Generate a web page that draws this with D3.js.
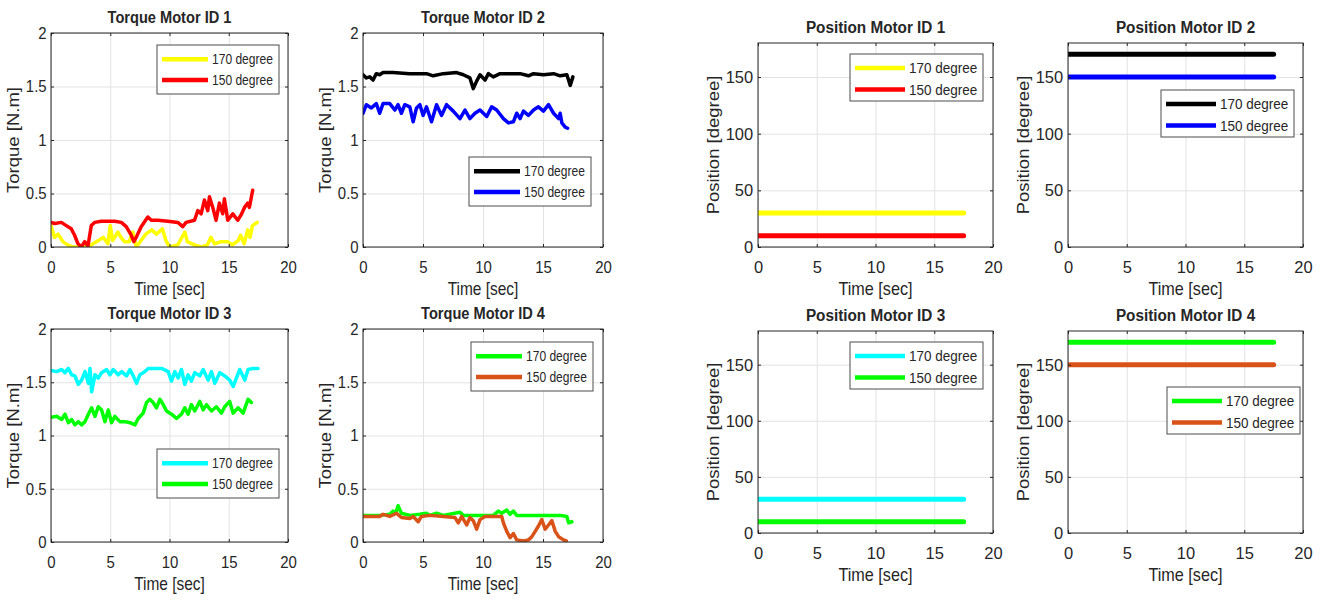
<!DOCTYPE html>
<html>
<head>
<meta charset="utf-8">
<script src="https://cdn.jsdelivr.net/npm/d3@7"></script>
<style>
body { margin: 0; background: #fff; }
text { font-family: "Liberation Sans", Arial, Helvetica, sans-serif; fill: #262626; }
</style>
</head>
<body>
<script>
// Tick values and legend labels
var timeTicks = [0, 5, 10, 15, 20];
var torqueTicks = [0, 0.5, 1, 1.5, 2];
var positionTicks = [0, 50, 100, 150];
var legendLabels = ["170 degree", "150 degree"];

// Torque readings [time sec, torque N.m]
var torque1_170 = [[0,0.20],[0.3,0.09],[0.6,0.12],[1.0,0.05],[1.4,0.02],[1.85,0],[2.3,0],[2.8,0],[3.4,0.02],[4.0,0.06],[4.4,0.09],[4.8,0.03],[5.0,0.20],[5.2,0.06],[5.65,0.14],[5.9,0.09],[6.2,0.05],[6.6,0.05],[6.9,0.14],[7.2,0],[7.6,0.06],[8.0,0.12],[8.5,0.16],[8.9,0.12],[9.4,0.17],[9.7,0.06],[10.0,0],[10.7,0.02],[11.3,0.14],[11.5,0.05],[12.1,0.02],[12.7,0],[13.2,0.02],[13.5,0.09],[13.8,0.03],[14.35,0.05],[14.9,0.05],[15.3,0.02],[15.8,0.06],[16.0,0.11],[16.3,0.03],[16.6,0.16],[16.8,0.09],[17.0,0.20],[17.4,0.23]];
var torque1_150 = [[0,0.23],[0.31,0.22],[0.87,0.23],[1.29,0.20],[1.71,0.17],[1.99,0.11],[2.28,0.03],[2.56,0],[2.84,0.05],[3.12,0.01],[3.4,0.20],[3.68,0.23],[4.24,0.24],[4.8,0.24],[5.37,0.24],[5.93,0.23],[6.35,0.19],[6.77,0.11],[6.99,0.05],[7.19,0.09],[7.61,0.19],[8.17,0.28],[8.46,0.25],[9.02,0.25],[9.86,0.24],[10.7,0.23],[11.12,0.19],[11.4,0.23],[12.11,0.25],[12.39,0.34],[12.67,0.31],[12.95,0.44],[13.23,0.34],[13.37,0.47],[13.65,0.37],[13.93,0.25],[14.21,0.41],[14.49,0.31],[14.63,0.45],[14.92,0.25],[15.34,0.31],[15.76,0.25],[16.04,0.30],[16.33,0.37],[16.6,0.41],[16.74,0.37],[17.02,0.53]];

var torque2_170 = [[0,1.61],[0.28,1.58],[0.56,1.59],[0.84,1.56],[1.11,1.62],[1.39,1.61],[1.67,1.63],[2.5,1.63],[3.9,1.62],[5.29,1.62],[5.85,1.60],[6.69,1.62],[7.8,1.63],[8.36,1.61],[8.91,1.58],[9.19,1.48],[9.47,1.55],[9.75,1.61],[10.17,1.56],[10.45,1.62],[10.86,1.59],[11.42,1.62],[12.26,1.62],[13.09,1.62],[13.79,1.60],[14.21,1.62],[15.04,1.61],[15.88,1.62],[16.43,1.60],[16.99,1.61],[17.27,1.51],[17.49,1.59]];
var torque2_150 = [[0,1.25],[0.28,1.33],[0.7,1.30],[1.11,1.34],[1.39,1.25],[1.67,1.34],[2.23,1.34],[2.65,1.28],[2.92,1.33],[3.2,1.25],[3.48,1.33],[3.9,1.31],[4.18,1.17],[4.46,1.30],[4.74,1.33],[5.01,1.23],[5.29,1.31],[5.71,1.17],[6.13,1.33],[6.55,1.23],[6.96,1.33],[7.52,1.27],[8.08,1.20],[8.5,1.28],[8.91,1.20],[9.33,1.25],[9.75,1.28],[10.31,1.22],[10.72,1.31],[11.14,1.28],[11.7,1.20],[12.12,1.16],[12.53,1.17],[12.81,1.25],[13.09,1.20],[13.37,1.27],[13.79,1.23],[14.21,1.28],[14.62,1.31],[15.04,1.27],[15.46,1.33],[15.88,1.25],[16.3,1.20],[16.43,1.25],[16.57,1.16],[16.85,1.12],[17.05,1.11]];

var torque3_170 = [[0,1.61],[0.48,1.60],[0.9,1.62],[1.18,1.59],[1.46,1.63],[1.74,1.57],[2.02,1.56],[2.3,1.48],[2.58,1.52],[2.87,1.60],[3.15,1.49],[3.29,1.63],[3.43,1.41],[3.71,1.57],[3.99,1.54],[4.27,1.59],[4.69,1.62],[4.97,1.57],[5.25,1.62],[5.67,1.57],[5.96,1.60],[6.38,1.56],[6.66,1.62],[6.94,1.56],[7.22,1.49],[7.5,1.57],[7.92,1.60],[8.2,1.63],[8.76,1.63],[9.33,1.63],[9.89,1.60],[10.17,1.51],[10.45,1.60],[10.73,1.54],[11.01,1.62],[11.29,1.48],[11.57,1.57],[11.85,1.51],[12.13,1.59],[12.56,1.56],[12.84,1.62],[13.26,1.52],[13.54,1.60],[13.82,1.49],[14.24,1.59],[14.66,1.56],[15.08,1.52],[15.37,1.46],[15.65,1.54],[15.93,1.62],[16.35,1.52],[16.63,1.62],[17.05,1.63],[17.47,1.63]];
var torque3_150 = [[0,1.17],[0.48,1.18],[0.9,1.15],[1.18,1.20],[1.46,1.12],[1.74,1.15],[2.02,1.10],[2.3,1.13],[2.58,1.10],[2.87,1.13],[3.15,1.20],[3.43,1.26],[3.71,1.18],[3.99,1.27],[4.27,1.24],[4.55,1.13],[4.83,1.24],[5.11,1.12],[5.39,1.18],[5.81,1.13],[6.24,1.13],[6.66,1.12],[7.08,1.10],[7.36,1.16],[7.78,1.21],[8.06,1.31],[8.34,1.34],[8.62,1.31],[8.9,1.26],[9.19,1.34],[9.47,1.29],[9.75,1.23],[10.17,1.20],[10.59,1.16],[11.01,1.20],[11.29,1.26],[11.57,1.20],[11.85,1.29],[12.13,1.23],[12.56,1.32],[12.84,1.24],[13.12,1.29],[13.54,1.23],[13.96,1.27],[14.38,1.21],[14.66,1.27],[15.08,1.32],[15.37,1.21],[15.79,1.26],[16.21,1.21],[16.63,1.34],[16.91,1.31]];

var torque4_170 = [[0,0.25],[1.39,0.25],[2.23,0.26],[2.51,0.29],[2.73,0.27],[2.92,0.34],[3.2,0.27],[3.9,0.25],[4.74,0.26],[5.29,0.27],[5.57,0.25],[6.13,0.27],[6.69,0.25],[8.08,0.28],[8.36,0.25],[10.86,0.25],[11.28,0.29],[11.56,0.27],[11.98,0.30],[12.26,0.26],[12.53,0.29],[12.81,0.25],[13.65,0.25],[15.04,0.25],[16.43,0.25],[16.99,0.24],[17.13,0.18],[17.41,0.19]];
var torque4_150 = [[0,0.24],[1.39,0.24],[1.67,0.26],[2.23,0.24],[2.79,0.27],[3.2,0.23],[3.9,0.22],[4.18,0.24],[4.6,0.19],[4.87,0.24],[5.57,0.25],[6.69,0.24],[7.66,0.23],[7.94,0.18],[8.22,0.24],[8.64,0.16],[8.91,0.23],[9.19,0.20],[9.47,0.12],[9.75,0.21],[10.17,0.24],[10.86,0.24],[11.56,0.24],[11.7,0.18],[11.98,0.10],[12.26,0.04],[12.53,0.08],[12.81,0.02],[13.37,0.01],[13.79,0.02],[14.07,0.05],[14.35,0.10],[14.62,0.15],[14.9,0.21],[15.18,0.12],[15.46,0.16],[15.74,0.20],[16.02,0.10],[16.3,0.05],[16.71,0.02],[16.94,0.01]];

// Position readings [time sec, position degree]
var position1_170 = [[0,30],[17.5,30]];
var position1_150 = [[0,10],[17.5,10]];
var position2_170 = [[0,170],[17.5,170]];
var position2_150 = [[0,150],[17.5,150]];
var position3_170 = [[0,30],[17.5,30]];
var position3_150 = [[0,10],[17.5,10]];
var position4_170 = [[0,170],[17.5,170]];
var position4_150 = [[0,150],[17.5,150]];

var svg = d3.select("body")
.append("svg")
.attr("width", 1323)
.attr("height", 601);

// Torque panels and position panels share one drawing routine
var torqueStyle = {yDomain: [0, 2], yTicks: torqueTicks, ylabel: "Torque [N.m]", yOff: 32,
  lineW: 3.5, sx: 0.86, tickSx: 0.88, legW: 122, legH: 49, legRows: [14.3, 35], legLine: 46, legFont: 14};
var positionStyle = {yDomain: [0, 180], yTicks: positionTicks, ylabel: "Position [degree]", yOff: 39,
  lineW: 5, sx: 0.9, tickSx: 0.97, legW: 133, legH: 47, legRows: [14, 35.5], legLine: 50, legFont: 15};

var panels = [
  {title: "Torque Motor ID 1", s: torqueStyle, left: 51, top: 33, w: 237, h: 214, legX: 106, legY: 12, series: [torque1_170, torque1_150], colors: ["#ffff00", "#ff0000"]},
  {title: "Torque Motor ID 2", s: torqueStyle, left: 363, top: 33, w: 240, h: 214, legX: 106, legY: 124, series: [torque2_170, torque2_150], colors: ["#000000", "#0000ff"]},
  {title: "Torque Motor ID 3", s: torqueStyle, left: 51, top: 329, w: 237, h: 213, legX: 106, legY: 120, series: [torque3_170, torque3_150], colors: ["#00ffff", "#00ff00"]},
  {title: "Torque Motor ID 4", s: torqueStyle, left: 363, top: 329, w: 240, h: 213, legX: 108, legY: 13, series: [torque4_170, torque4_150], colors: ["#00ff00", "#d95319"]},
  {title: "Position Motor ID 1", s: positionStyle, left: 758, top: 43, w: 235, h: 204, legX: 92, legY: 11, series: [position1_170, position1_150], colors: ["#ffff00", "#ff0000"]},
  {title: "Position Motor ID 2", s: positionStyle, left: 1068, top: 43, w: 235, h: 204, legX: 93, legY: 47, series: [position2_170, position2_150], colors: ["#000000", "#0000ff"]},
  {title: "Position Motor ID 3", s: positionStyle, left: 758, top: 331, w: 235, h: 202, legX: 92, legY: 11, series: [position3_170, position3_150], colors: ["#00ffff", "#00ff00"]},
  {title: "Position Motor ID 4", s: positionStyle, left: 1068, top: 331, w: 235, h: 202, legX: 99, legY: 56, series: [position4_170, position4_150], colors: ["#00ff00", "#d95319"]}
];

function styleAxis(sel, s) {
  sel.attr("font-size", null).attr("font-family", null);
  sel.select(".domain").remove();
  sel.selectAll(".tick line").attr("stroke", "#262626");
  sel.selectAll(".tick text")
  .style("font-size", "17px")
  .attr("fill", "#262626")
  .attr("transform", "scale(" + s.tickSx + ",1)");
}

function drawPanel(p, i) {
  var s = p.s;
  var g = svg.append("g").attr("transform", `translate(${p.left},${p.top})`);

  var x_Scale = d3.scaleLinear().domain([0, 20]).range([0, p.w]);
  var y_Scale = d3.scaleLinear().domain(s.yDomain).range([p.h, 0]);

  // Light grid
  g.append("g")
  .call(d3.axisBottom(x_Scale).tickValues(timeTicks).tickSize(p.h).tickFormat(""))
  .call(function(a) { a.select(".domain").remove(); a.selectAll("line").attr("stroke", "#e3e3e3"); });
  g.append("g")
  .call(d3.axisLeft(y_Scale).tickValues(s.yTicks).tickSize(-p.w).tickFormat(""))
  .call(function(a) { a.select(".domain").remove(); a.selectAll("line").attr("stroke", "#e3e3e3"); });

  // Clip the data to the axes box
  g.append("clipPath").attr("id", "clip" + i)
  .append("rect").attr("width", p.w).attr("height", p.h);

  var plot_line = d3.line()
  .x(function(d) { return x_Scale(d[0]); })
  .y(function(d) { return y_Scale(d[1]); });

  p.series.forEach(function(data, k) {
    g.append("path")
    .attr("d", plot_line(data))
    .attr("fill", "none")
    .attr("stroke", p.colors[k])
    .attr("stroke-width", s.lineW)
    .attr("stroke-linejoin", "round")
    .attr("stroke-linecap", "round")
    .attr("clip-path", "url(#clip" + i + ")");
  });

  // Axes with inward ticks
  g.append("g")
  .attr("transform", `translate(0,${p.h})`)
  .call(d3.axisBottom(x_Scale).tickValues(timeTicks).tickSize(-3).tickPadding(14).tickFormat(d3.format("d")))
  .call(function(a) { styleAxis(a, s); });
  g.append("g")
  .call(d3.axisLeft(y_Scale).tickValues(s.yTicks).tickSize(-3).tickPadding(5).tickFormat(function(d) { return String(d); }))
  .call(function(a) { styleAxis(a, s); });
  g.append("g")
  .call(d3.axisTop(x_Scale).tickValues(timeTicks).tickSize(-3).tickFormat(""))
  .call(function(a) { styleAxis(a, s); });
  g.append("g")
  .attr("transform", `translate(${p.w},0)`)
  .call(d3.axisRight(y_Scale).tickValues(s.yTicks).tickSize(-3).tickFormat(""))
  .call(function(a) { styleAxis(a, s); });

  g.append("rect")
  .attr("width", p.w)
  .attr("height", p.h)
  .attr("fill", "none")
  .attr("stroke", "#262626")
  .attr("stroke-width", 1);

  // Title and axis labels
  g.append("text")
  .attr("transform", `translate(${p.w / 2},-10) scale(${s.sx},1)`)
  .attr("text-anchor", "middle")
  .style("font-size", "17px")
  .style("font-weight", "bold")
  .attr("fill", "#000")
  .text(p.title);

  g.append("text")
  .attr("transform", `translate(${p.w / 2},${p.h + 48}) scale(${s.sx},1)`)
  .attr("text-anchor", "middle")
  .style("font-size", "18px")
  .text("Time [sec]");

  g.append("text")
  .attr("transform", `translate(${-s.yOff},${p.h / 2}) rotate(-90) scale(1,${s.sx})`)
  .attr("text-anchor", "middle")
  .style("font-size", "18.5px")
  .text(s.ylabel);

  // Legend
  var leg = g.append("g").attr("transform", `translate(${p.legX},${p.legY})`);
  leg.append("rect")
  .attr("width", s.legW)
  .attr("height", s.legH)
  .attr("fill", "#fff")
  .attr("stroke", "#4d4d4d")
  .attr("stroke-width", 1);
  legendLabels.forEach(function(lab, k) {
    var yy = s.legRows[k];
    leg.append("line")
    .attr("x1", 5).attr("x2", 5 + s.legLine)
    .attr("y1", yy).attr("y2", yy)
    .attr("stroke", p.colors[k])
    .attr("stroke-width", 4.5);
    leg.append("text")
    .attr("transform", `translate(${s.legLine + 9},${yy}) scale(${s.sx},1)`)
    .attr("dy", "0.36em")
    .style("font-size", s.legFont + "px")
    .text(lab);
  });
}

panels.forEach(drawPanel);
</script>
</body>
</html>
